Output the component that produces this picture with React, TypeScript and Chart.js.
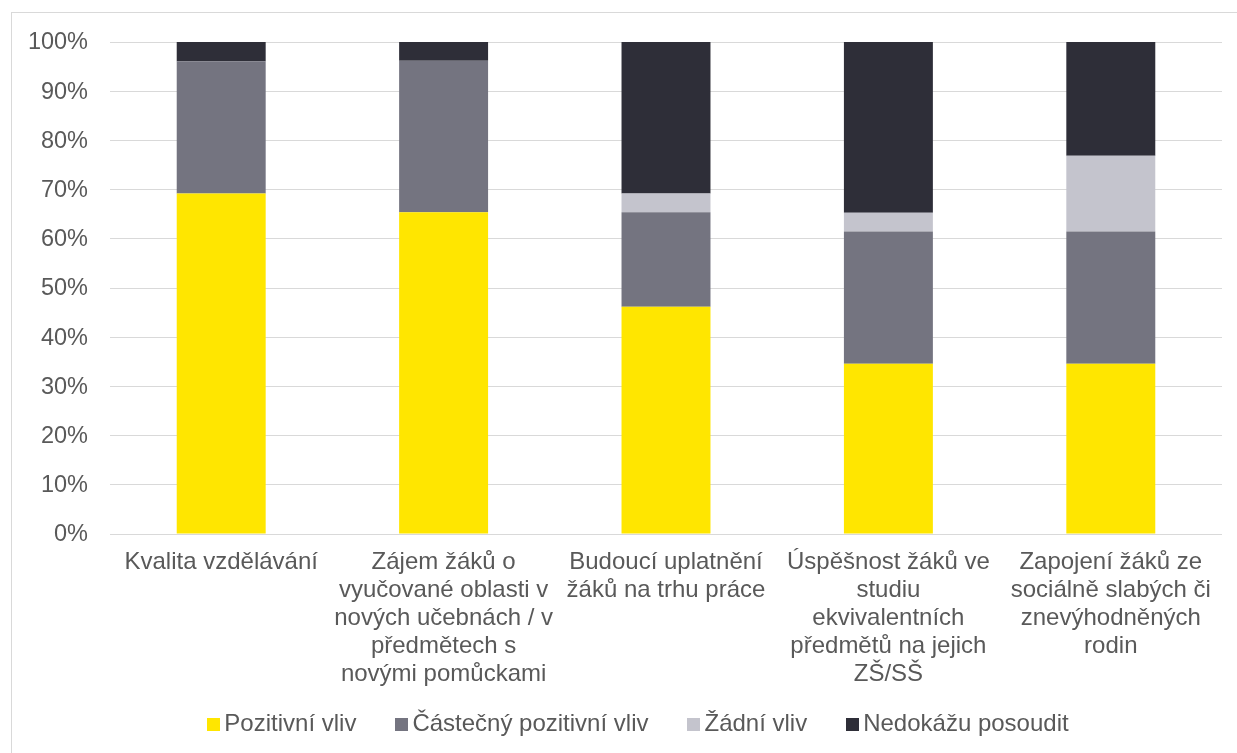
import React, { useEffect, useRef } from "react";
import { Chart, registerables } from "chart.js";

Chart.register(...registerables);

const categories: (string | string[])[] = [
  "Kvalita vzdělávání",
  ["Zájem žáků o", "vyučované oblasti v", "nových učebnách / v", "předmětech s", "novými pomůckami"],
  ["Budoucí uplatnění", "žáků na trhu práce"],
  ["Úspěšnost žáků ve", "studiu", "ekvivalentních", "předmětů na jejich", "ZŠ/SŠ"],
  ["Zapojení žáků ze", "sociálně slabých či", "znevýhodněných", "rodin"],
];

const seriesNames = ["Pozitivní vliv", "Částečný pozitivní vliv", "Žádní vliv", "Nedokážu posoudit"];

const pozitivni = [69.2, 65.4, 46.2, 34.6, 34.6];
const castecny = [26.9, 30.8, 19.2, 26.9, 26.9];
const zadny = [0, 0, 3.8, 3.8, 15.4];
const nedokazu = [3.9, 3.8, 30.8, 34.7, 23.1];

const colors = ["#FFE600", "#747480", "#C4C4CD", "#2E2E38"];

const FONT = "'Liberation Sans', Arial, sans-serif";
const TEXT = "#595959";
const TICK_SIZE = 23.5;
const LABEL_SIZE = 24;

// Legend drawn on the canvas with real text, centred under the plot
const bottomLegend = {
  id: "bottomLegend",
  afterDraw(chart: any) {
    const ctx = chart.ctx as CanvasRenderingContext2D;
    const box = 13;
    const gap = 4;
    const spacing = 39;
    const centerX = 638;
    const centerY = 724.5;
    ctx.save();
    ctx.font = `${LABEL_SIZE}px ${FONT}`;
    ctx.textBaseline = "middle";
    ctx.textAlign = "left";
    const items = chart.data.datasets.map((ds: any) => ({
      label: ds.label as string,
      color: ds.backgroundColor as string,
      w: ctx.measureText(ds.label).width,
    }));
    const total =
      items.reduce((s: number, it: any) => s + box + gap + it.w, 0) + spacing * (items.length - 1);
    let x = centerX - total / 2;
    for (const it of items) {
      ctx.fillStyle = it.color;
      ctx.fillRect(Math.round(x), Math.round(centerY - box / 2), box, box);
      ctx.fillStyle = TEXT;
      ctx.fillText(it.label, x + box + gap, centerY);
      x += box + gap + it.w + spacing;
    }
    ctx.restore();
  },
};

export default function App() {
  const ref = useRef<HTMLCanvasElement | null>(null);

  useEffect(() => {
    if (!ref.current) return;
    const values = [pozitivni, castecny, zadny, nedokazu];
    const chart = new Chart(ref.current, {
      type: "bar",
      data: {
        labels: categories,
        datasets: values.map((d, i) => ({
          label: seriesNames[i],
          data: d,
          backgroundColor: colors[i],
          borderWidth: 0,
          barPercentage: 0.4,
          categoryPercentage: 1,
        })),
      },
      options: {
        animation: false,
        responsive: false,
        devicePixelRatio: 1,
        layout: { padding: { top: 42, left: 0, right: 15, bottom: 59 } },
        plugins: {
          tooltip: { enabled: false },
          legend: { display: false },
        },
        scales: {
          x: {
            stacked: true,
            grid: { display: false, drawTicks: false },
            border: { display: false },
            ticks: {
              color: TEXT,
              font: { family: FONT, size: LABEL_SIZE, lineHeight: 1.17 },
              padding: 14,
              autoSkip: false,
              maxRotation: 0,
              minRotation: 0,
            },
            afterFit: (s: any) => {
              s.height = 160;
            },
          },
          y: {
            stacked: true,
            min: 0,
            max: 100,
            grid: { color: "#D9D9D9", lineWidth: 1, drawTicks: false },
            border: { display: false },
            ticks: {
              stepSize: 10,
              color: TEXT,
              font: { family: FONT, size: TICK_SIZE },
              padding: 22,
              labelOffset: 1,
              callback: (v: any) => v + "%",
            },
            afterFit: (s: any) => {
              s.width = 110;
            },
          },
        },
      },
      plugins: [bottomLegend],
    });
    return () => chart.destroy();
  }, []);

  return (
    <div
      style={{
        position: "fixed",
        left: 0,
        top: 0,
        width: 1237,
        height: 753,
        overflow: "hidden",
        background: "#fff",
      }}
    >
      <div
        style={{
          position: "absolute",
          left: 11,
          top: 12,
          width: 1300,
          height: 900,
          border: "1px solid #D9D9D9",
          boxSizing: "border-box",
        }}
      />
      <canvas
        ref={ref}
        width={1237}
        height={753}
        style={{ position: "absolute", left: 0, top: 0, width: 1237, height: 753 }}
      />
    </div>
  );
}
